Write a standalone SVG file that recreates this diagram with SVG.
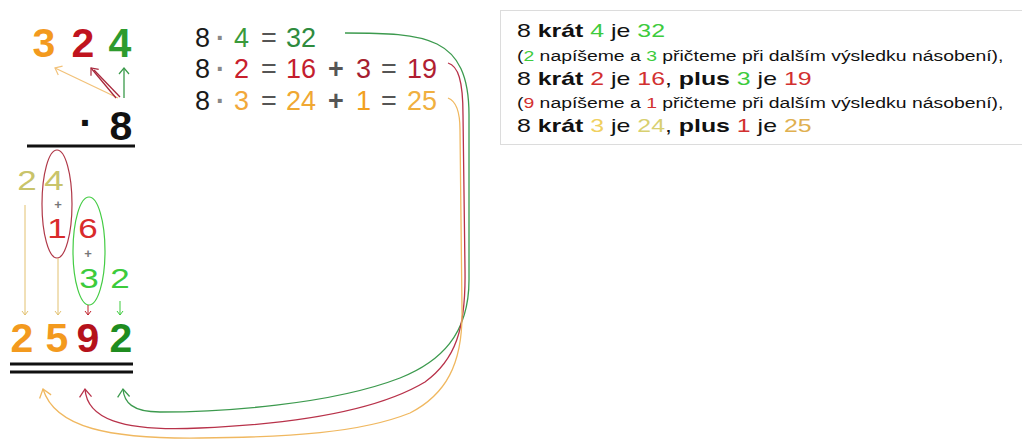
<svg xmlns="http://www.w3.org/2000/svg" width="1022" height="439" viewBox="0 0 1022 439">
<defs>
<style>
text{font-family:"Liberation Sans",Arial,sans-serif}
.big{font-size:41px;font-weight:bold;text-anchor:middle}
.sm{font-size:28px;text-anchor:middle}
.pl{font-size:13px;font-weight:bold;text-anchor:middle;fill:#777}
.eq{font-size:27px}
.dot{font-weight:bold;fill:#888}
.bx1{font-size:19px;fill:#111}
.bx2{font-size:15.5px;fill:#111}
.b{font-weight:bold}
.conn{fill:none;stroke-width:1.3}
.g{fill:#3DCB3D}.r{fill:#D23030}
</style>
<marker id="hG" viewBox="-10 -8 12 16" markerWidth="12" markerHeight="16" refX="0" refY="0" orient="auto" markerUnits="userSpaceOnUse"><path d="M-8,-6 L0,0 L-8,6" fill="none" stroke="#3C9A4E" stroke-width="1.3"/></marker>
<marker id="hR" viewBox="-10 -8 12 16" markerWidth="12" markerHeight="16" refX="0" refY="0" orient="auto" markerUnits="userSpaceOnUse"><path d="M-8,-6 L0,0 L-8,6" fill="none" stroke="#B8324A" stroke-width="1.3"/></marker>
<marker id="hO" viewBox="-10 -8 12 16" markerWidth="12" markerHeight="16" refX="0" refY="0" orient="auto" markerUnits="userSpaceOnUse"><path d="M-8,-6 L0,0 L-8,6" fill="none" stroke="#F0B860" stroke-width="1.3"/></marker>
<marker id="tG" viewBox="-8 -6 10 12" markerWidth="10" markerHeight="12" refX="0" refY="0" orient="auto" markerUnits="userSpaceOnUse"><path d="M-6,-5 L0,0 L-6,5" fill="none" stroke="#3A9A4A" stroke-width="1.2"/></marker>
<marker id="tR" viewBox="-8 -6 10 12" markerWidth="10" markerHeight="12" refX="0" refY="0" orient="auto" markerUnits="userSpaceOnUse"><path d="M-6,-5 L0,0 L-6,5" fill="none" stroke="#A8283C" stroke-width="1.2"/></marker>
<marker id="tO" viewBox="-8 -6 10 12" markerWidth="10" markerHeight="12" refX="0" refY="0" orient="auto" markerUnits="userSpaceOnUse"><path d="M-6,-5 L0,0 L-6,5" fill="none" stroke="#F2C27A" stroke-width="1.2"/></marker>
<marker id="sK" viewBox="-5 -4 6 8" markerWidth="6" markerHeight="8" refX="0" refY="0" orient="auto" markerUnits="userSpaceOnUse"><path d="M-4,-3 L0,0 L-4,3" fill="none" stroke="#E2C170" stroke-width="1"/></marker>
<marker id="sR" viewBox="-5 -4 6 8" markerWidth="6" markerHeight="8" refX="0" refY="0" orient="auto" markerUnits="userSpaceOnUse"><path d="M-4,-3 L0,0 L-4,3" fill="none" stroke="#C0202A" stroke-width="1"/></marker>
<marker id="sG" viewBox="-5 -4 6 8" markerWidth="6" markerHeight="8" refX="0" refY="0" orient="auto" markerUnits="userSpaceOnUse"><path d="M-4,-3 L0,0 L-4,3" fill="none" stroke="#3CCB3C" stroke-width="1"/></marker>
</defs>
<rect width="1022" height="439" fill="#fff"/>

<g id="multiplicand">
<text class="big" x="44" y="57" fill="#F39A1E">3</text>
<text class="big" x="83" y="57" fill="#C0141E">2</text>
<text class="big" x="120" y="57" fill="#2E9B2E">4</text>
</g>

<g id="multiplier">
<text class="big" x="86" y="137" fill="#111">·</text>
<text class="big" x="121" y="140" fill="#111">8</text>
<line x1="27" y1="146" x2="135" y2="146" stroke="#111" stroke-width="3"/>
</g>

<g id="partials">
<ellipse cx="57" cy="204" rx="15" ry="54" fill="none" stroke="#B03848" stroke-width="1.2"/>
<ellipse cx="89" cy="251" rx="16" ry="54" fill="none" stroke="#44CC44" stroke-width="1.2"/>
<text class="sm" transform="translate(27,190) scale(1.25,1)" fill="#C9C46A">2</text>
<text class="sm" transform="translate(54,190) scale(1.25,1)" fill="#C9C46A">4</text>
<text class="pl" x="58" y="209">+</text>
<text class="sm" transform="translate(57,238) scale(1.25,1)" fill="#D92B2B">1</text>
<text class="sm" transform="translate(88,238) scale(1.25,1)" fill="#D92B2B">6</text>
<text class="pl" x="88" y="258">+</text>
<text class="sm" transform="translate(89,288) scale(1.25,1)" fill="#3CCB3C">3</text>
<text class="sm" transform="translate(120,288) scale(1.25,1)" fill="#3CCB3C">2</text>
</g>

<g id="result">
<text class="big" x="22" y="352" fill="#F39A1E">2</text>
<text class="big" x="57" y="352" fill="#F39A1E">5</text>
<text class="big" x="88" y="352" fill="#B5121B">9</text>
<text class="big" x="121" y="352" fill="#1F8C1F">2</text>
<line x1="10" y1="364" x2="133" y2="364" stroke="#111" stroke-width="3"/>
<line x1="10" y1="372" x2="133" y2="372" stroke="#111" stroke-width="3"/>
</g>

<g id="equations" class="eq">
<text y="47"><tspan x="195" fill="#1a1a1a">8</tspan><tspan x="216" class="dot">·</tspan><tspan x="234" fill="#3A9A3A">4</tspan><tspan x="261" fill="#555">=</tspan><tspan x="286" fill="#2E8B3E">32</tspan></text>
<text y="78"><tspan x="195" fill="#1a1a1a">8</tspan><tspan x="216" class="dot">·</tspan><tspan x="234" fill="#C8202C">2</tspan><tspan x="261" fill="#555">=</tspan><tspan x="286" fill="#C41E2E">16</tspan><tspan x="328" fill="#555" font-weight="bold">+</tspan><tspan x="356" fill="#A51E30">3</tspan><tspan x="381" fill="#555">=</tspan><tspan x="407" fill="#B01E32">19</tspan></text>
<text y="110"><tspan x="195" fill="#1a1a1a">8</tspan><tspan x="216" class="dot">·</tspan><tspan x="234" fill="#F2A83A">3</tspan><tspan x="261" fill="#555">=</tspan><tspan x="286" fill="#F0A832">24</tspan><tspan x="328" fill="#555" font-weight="bold">+</tspan><tspan x="356" fill="#F2A020">1</tspan><tspan x="381" fill="#555">=</tspan><tspan x="407" fill="#F0B040">25</tspan></text>
</g>

<g id="explanation">
<rect x="500.5" y="10.5" width="530" height="134" fill="#fff" stroke="#DCDCDC"/>
<text class="bx1" transform="translate(517,37) scale(1.31,1)">8 <tspan class="b">krát</tspan> <tspan class="g">4</tspan> je <tspan class="g">32</tspan></text>
<text class="bx2" transform="translate(517,61) scale(1.25,1)">(<tspan class="g">2</tspan> napíšeme a <tspan class="g">3</tspan> přičteme při dalším výsledku násobení),</text>
<text class="bx1" transform="translate(517,85) scale(1.31,1)">8 <tspan class="b">krát</tspan> <tspan class="r">2</tspan> je <tspan class="r">16</tspan>, <tspan class="b">plus</tspan> <tspan class="g">3</tspan> je <tspan class="r">19</tspan></text>
<text class="bx2" transform="translate(517,108) scale(1.25,1)">(<tspan class="r">9</tspan> napíšeme a <tspan class="r">1</tspan> přičteme při dalším výsledku násobení),</text>
<text class="bx1" transform="translate(517,132) scale(1.31,1)">8 <tspan class="b">krát</tspan> <tspan fill="#F0D060">3</tspan> je <tspan fill="#D8D070">24</tspan>, <tspan class="b">plus</tspan> <tspan class="r">1</tspan> je <tspan fill="#E0B050">25</tspan></text>
</g>

<g id="connectors" class="conn">
<line x1="118" y1="98" x2="55" y2="68" stroke="#F2C27A" marker-end="url(#tO)"/>
<line x1="116" y1="98" x2="91" y2="68" stroke="#A8283C" marker-end="url(#tR)"/>
<line x1="120" y1="97" x2="94" y2="70" stroke="#A8283C"/>
<line x1="124" y1="98" x2="124" y2="68" stroke="#3A9A4A" marker-end="url(#tG)"/>
<line x1="25" y1="205" x2="25" y2="315" stroke="#E2C170" stroke-width="1" marker-end="url(#sK)"/>
<line x1="58" y1="258" x2="58" y2="315" stroke="#E2C170" stroke-width="1" marker-end="url(#sK)"/>
<line x1="88" y1="305" x2="88" y2="315" stroke="#C0202A" stroke-width="1" marker-end="url(#sR)"/>
<line x1="120" y1="301" x2="120" y2="315" stroke="#3CCB3C" stroke-width="1" marker-end="url(#sG)"/>
<path d="M345,33 C425,33 469,35 469,115 L469,280 C469,335 440,362 400,378 C330,405 220,412 160,412 C132,412 124,402 123,389" stroke="#3C9A4E" marker-end="url(#hG)"/>
<path d="M448,63 C458,66 463,80 463,115 L465,270 C466,330 455,360 425,382 C370,415 270,425 200,428 C120,432 87,418 85,389" stroke="#B8324A" marker-end="url(#hR)"/>
<path d="M448,98 C456,101 460,112 460,130 L462,310 C463,365 445,395 410,413 C360,433 290,437 200,438 C110,439 55,428 43,389" stroke="#F0B860" marker-end="url(#hO)"/>
</g>
</svg>
